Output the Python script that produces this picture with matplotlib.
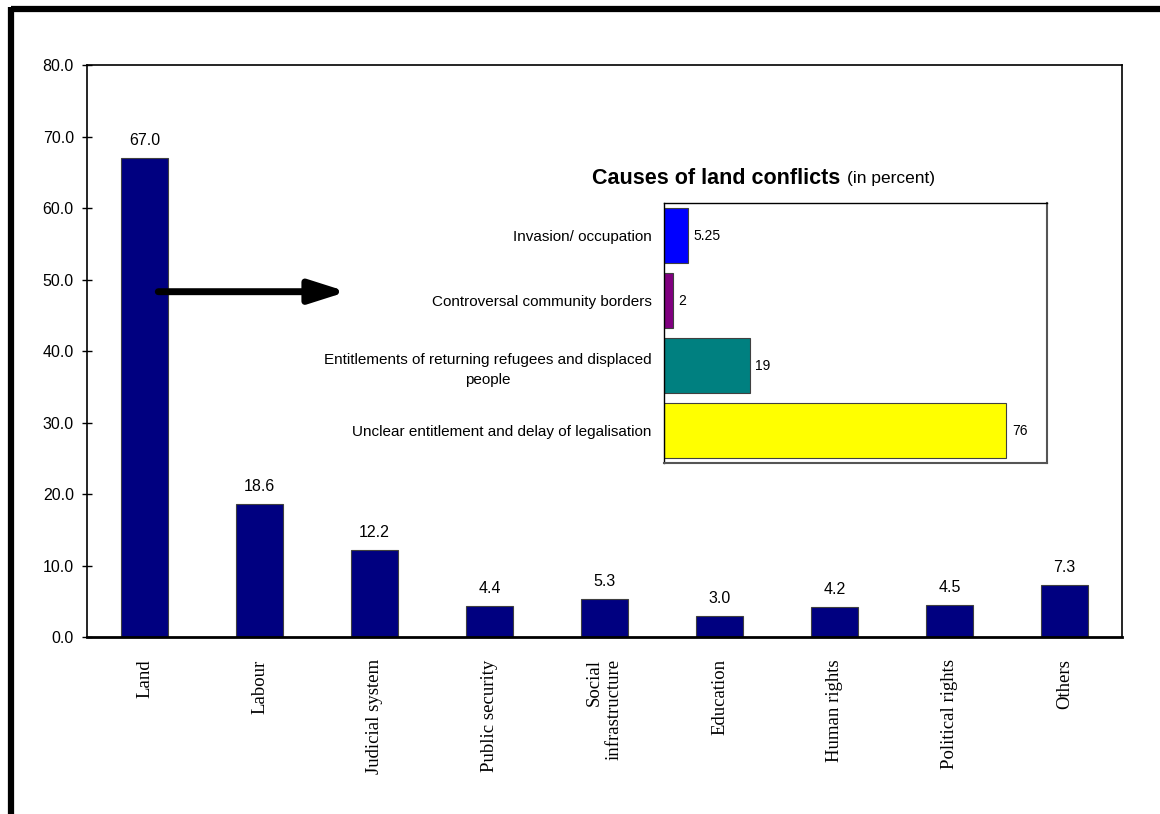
import matplotlib.pyplot as plt
from matplotlib.lines import Line2D

# main chart: share of conflicts by area (percent)
categories = ['Land', 'Labour', 'Judicial system', 'Public security',
              'Social\ninfrastructure', 'Education', 'Human rights',
              'Political rights', 'Others']
values = [67.0, 18.6, 12.2, 4.4, 5.3, 3.0, 4.2, 4.5, 7.3]

# inset: causes of land conflicts (percent)
causes = ['Invasion/ occupation', 'Controversal community borders',
          'Entitlements of returning refugees and displaced\npeople',
          'Unclear entitlement and delay of legalisation']
cause_values = [5.25, 2, 19, 76]
cause_colors = ['#0000ff', '#800080', '#008080', '#ffff00']

plt.rcParams['font.family'] = ['Liberation Sans', 'DejaVu Sans']

fig = plt.figure(figsize=(11.6, 8.14), dpi=100)

# thick frame on top and left
fig.add_artist(Line2D([0.0095, 1.0], [0.9885, 0.9885], color='black', lw=4.5,
                      transform=fig.transFigure, solid_capstyle='butt'))
fig.add_artist(Line2D([0.0095, 0.0095], [0.0, 0.992], color='black', lw=4.5,
                      transform=fig.transFigure, solid_capstyle='butt'))

ax = fig.add_axes([0.075, 0.2174, 0.8922, 0.7027])
x = list(range(len(categories)))
bars = ax.bar(x, values, width=0.41, color='#000080', edgecolor='#404040', linewidth=0.8)
ax.bar_label(bars, fmt='%.1f', padding=7, fontsize=11.5)
ax.set_xlim(-0.5, len(categories) - 0.5)
ax.set_ylim(0, 80)
ax.set_yticks([0, 10, 20, 30, 40, 50, 60, 70, 80])
ax.set_yticklabels(['%.1f' % v for v in ax.get_yticks()], fontsize=11.5)
ax.tick_params(axis='y', direction='inout', length=7, width=1, pad=6)
ax.set_xticks(x)
ax.set_xticklabels(categories, rotation=90, va='top', ha='center',
                   multialignment='right',
                   fontfamily='Liberation Serif', fontsize=13.5)
ax.tick_params(axis='x', length=0, pad=16)
for s in ax.spines.values():
    s.set_linewidth(1.2)
ax.spines['bottom'].set_linewidth(2)

# arrow pointing from the land bar to the inset
ax.annotate('', xy=(1.76, 48.3), xytext=(0.12, 48.3),
            arrowprops=dict(arrowstyle='-|>,head_length=2.2,head_width=0.7',
                            lw=5, color='black', shrinkA=0, shrinkB=0))

ins = fig.add_axes([0.5724, 0.4312, 0.3302, 0.3194])
ypos = list(range(len(causes)))
ibars = ins.barh(ypos, cause_values, height=0.85, color=cause_colors,
                 edgecolor='#404040', linewidth=0.8)
ins.bar_label(ibars, fmt='%g', padding=4, fontsize=10)
ins.set_xlim(0, 85)
ins.set_ylim(len(causes) - 0.5, -0.5)
ins.set_xticks([])
ins.set_yticks(ypos)
ins.set_yticklabels(causes, fontsize=11, multialignment='center', linespacing=1.5)
ins.tick_params(axis='y', length=0, pad=9)
for s in ins.spines.values():
    s.set_linewidth(1)
    s.set_color('black')
ins.spines['bottom'].set_color('#555555')
ins.spines['bottom'].set_linewidth(1.5)
ins.spines['right'].set_color('#555555')
ins.spines['right'].set_linewidth(1.5)

fig.text(592 / 1160, 1 - 178 / 814, 'Causes of land conflicts', fontsize=15.5,
         fontweight='bold', ha='left', va='center')
fig.text(847 / 1160, 1 - 179 / 814, '(in percent)', fontsize=12.5,
         ha='left', va='center')

fig.savefig('out.png', dpi=100)
